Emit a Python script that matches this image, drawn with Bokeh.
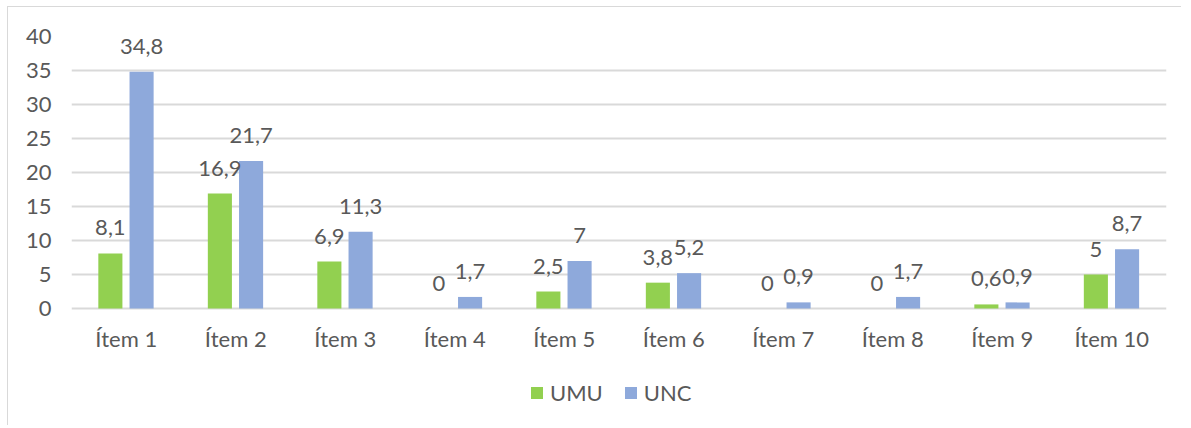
from bokeh.plotting import figure
from bokeh.models import ColumnDataSource, Legend, LegendItem, FactorRange, FixedTicker, Range1d
from bokeh.transform import dodge
from bokeh.core.properties import value
from bokeh.embed import file_html
from bokeh.resources import INLINE

categories = ["Ítem 1", "Ítem 2", "Ítem 3", "Ítem 4", "Ítem 5", "Ítem 6", "Ítem 7", "Ítem 8", "Ítem 9", "Ítem 10"]
umu = [8.1, 16.9, 6.9, 0, 2.5, 3.8, 0, 0, 0.6, 5]
unc = [34.8, 21.7, 11.3, 1.7, 7, 5.2, 0.9, 1.7, 0.9, 8.7]
y_ticks = [0, 5, 10, 15, 20, 25, 30, 35, 40]

def fmt(v):
    s = ("%g" % v)
    return s.replace(".", ",")

src = ColumnDataSource(dict(
    cat=categories, umu=umu, unc=unc,
    umu_lbl=[fmt(v) for v in umu], unc_lbl=[fmt(v) for v in unc],
))

FONT = "Lato"
FS = "22px"
GRAY = "#595959"
GREEN = "#92D050"
BLUE = "#8EA9DB"

# plot area: 272 px for 0..40, extended below for axis labels and legend
PX_PER_UNIT = 272 / 40
EXTRA_PX = 117

p = figure(x_range=FactorRange(*categories), y_range=Range1d(-EXTRA_PX / PX_PER_UNIT, 40),
           frame_width=1095, frame_height=272 + EXTRA_PX,
           output_backend="svg", toolbar_location=None,
           min_border_left=63, min_border_right=15, min_border_top=29, min_border_bottom=0)
p.margin = (6, 0, 0, 7)
p.outline_line_color = None
p.styles = {"border-left": "1px solid #d9d9d9", "border-top": "1px solid #d9d9d9"}

r1 = p.vbar(x=dodge("cat", -0.145, range=p.x_range), top="umu", width=0.22, source=src,
            fill_color=GREEN, line_color=None)
r2 = p.vbar(x=dodge("cat", 0.14, range=p.x_range), top="unc", width=0.22, source=src,
            fill_color=BLUE, line_color=None)

tk = dict(text_font=value(FONT), text_font_size=value(FS), text_color=GRAY, text_align="center",
          text_baseline="bottom", y_offset=-18)
p.text(x=dodge("cat", -0.145, range=p.x_range), y="umu", text="umu_lbl", source=src, **tk)
p.text(x=dodge("cat", 0.14, range=p.x_range), y="unc", text="unc_lbl", source=src, **tk)

p.yaxis.ticker = FixedTicker(ticks=y_ticks)
p.ygrid.grid_line_color = "#d9d9d9"
p.ygrid.grid_line_width = 2
p.xgrid.grid_line_color = None
for ax in (p.xaxis[0], p.yaxis[0]):
    ax.axis_line_color = None
    ax.major_tick_line_color = None
    ax.minor_tick_line_color = None
    ax.major_label_text_font = FONT
    ax.major_label_text_font_size = FS
    ax.major_label_text_color = GRAY
p.yaxis.major_label_standoff = 14
p.xaxis.major_label_standoff = 10
p.xaxis.fixed_location = 0

legend = Legend(items=[LegendItem(label="UMU", renderers=[r1]), LegendItem(label="UNC", renderers=[r2])],
                orientation="horizontal", location=(458, 19),
                label_text_font=FONT, label_text_font_size=FS, label_text_color=GRAY,
                glyph_width=15, glyph_height=15, spacing=20, label_standoff=6,
                border_line_color=None, background_fill_alpha=0, padding=6, margin=0)
p.add_layout(legend)

open("out.html", "w").write(file_html(p, INLINE))
